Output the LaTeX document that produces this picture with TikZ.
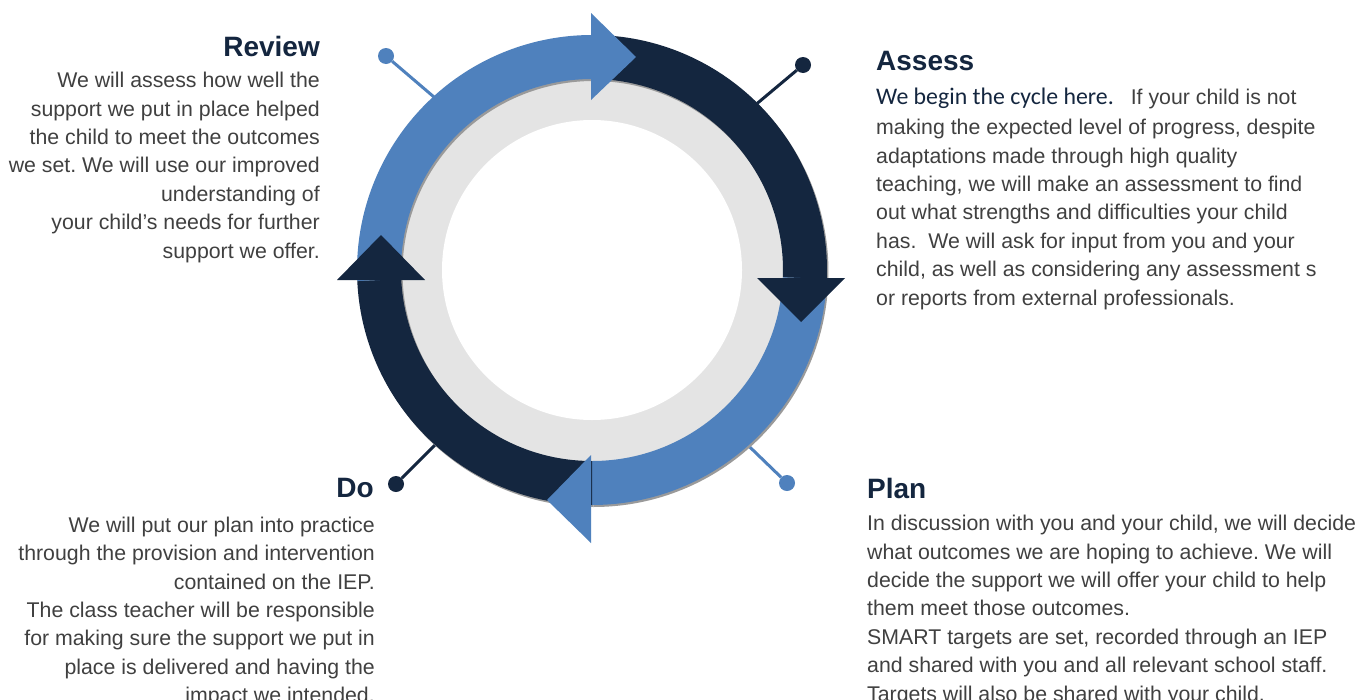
\documentclass[tikz,border=0pt]{standalone}
\usepackage{fontspec}
\setmainfont{Liberation Sans}
\newfontfamily\carlitofont{Carlito}
\usetikzlibrary{calc}
\definecolor{navy}{HTML}{14263F}
\definecolor{lblue}{HTML}{4F81BD}
\definecolor{ringgrey}{HTML}{E4E4E4}
\definecolor{textgrey}{HTML}{404040}
\definecolor{shadowgrey}{HTML}{9A9A9A}
\newcommand\ringseg[3]{%
  \fill[#1] (#2:235) arc[start angle=#2, end angle=#3, radius=235]
    -- (#3:191) arc[start angle=#3, end angle=#2, radius=191] -- cycle;}
\frenchspacing
\begin{document}
\begin{tikzpicture}[x=1pt,y=1pt,
  head/.style={font=\bfseries\fontsize{28}{30}\selectfont, text=navy, inner sep=0pt},
  body/.style={font=\frenchspacing\fontsize{21.3}{28.4}\selectfont, text=textgrey, inner sep=0pt},
  pin/.style={circle, inner sep=0pt, minimum size=16pt},
  link/.style={line width=3pt}]
\useasboundingbox (0,0) rectangle (1357,-699);
\fill[white] (0,0) rectangle (1357,-699);

% pins with connecting lines
\node[pin, fill=lblue] (pReview) at (386,-56) {};
\node[pin, fill=navy] (pAssess) at (803,-65) {};
\node[pin, fill=lblue] (pPlan) at (787,-483) {};
\node[pin, fill=navy] (pDo) at (396,-484) {};
\coordinate (rReview) at (455,-115);
\coordinate (rAssess) at (735,-122);
\coordinate (rPlan) at (727,-425);
\coordinate (rDo) at (457,-423);
\draw[link, lblue] (pReview) -- (rReview);
\draw[link, navy] (pAssess) -- (rAssess);
\draw[link, lblue] (pPlan) -- (rPlan);
\draw[link, navy] (pDo) -- (rDo);

% grey ring
\coordinate (C) at (592,-270);
\fill[ringgrey] (C) circle[radius=193];
\fill[white] (C) circle[radius=150];

% shadows
\begin{scope}[shift={(593.5,-272)}]
  \ringseg{shadowgrey}{90}{-2.2}
  \ringseg{shadowgrey}{-2.2}{-90}
  \ringseg{shadowgrey}{-90}{-177.3}
  \ringseg{shadowgrey}{182.7}{90}
\end{scope}
% ring segments
\begin{scope}[shift={(592,-270)}]
  \ringseg{navy}{90}{-2.2}
  \ringseg{lblue}{-2.2}{-90}
  \ringseg{navy}{-90}{-177.3}
  \ringseg{lblue}{182.7}{90}
\end{scope}
% arrow heads
\fill[lblue] (591,-13) -- (591,-100) -- (636,-57) -- cycle;
\fill[navy] (757,-278) -- (845,-278) -- (801,-322) -- cycle;
\fill[lblue] (591,-455) -- (591,-543) -- (547,-500) -- cycle;
\fill[navy] (337,-280) -- (425,-280) -- (381,-235) -- cycle;

% texts
\node[head, anchor=base east] (hReview) at (320,-56) {Review};
\node[body, align=right, anchor=north east] (bReview) at (320,-67.5) {\rule{0pt}{20pt}We will assess how well the\\
support we put in place helped\\
the child to meet the outcomes\\
we set. We will use our improved\\
understanding of\\
your child’s needs for further\\
support we offer.};

\node[head, anchor=base west] (hAssess) at (876,-70) {Assess};
\node[body, align=left, anchor=north west] (bAssess) at (876,-84) {\rule{0pt}{20pt}{\carlitofont\color{navy}\fontsize{23.8}{28.4}\selectfont We begin the cycle here.}\hspace{17pt}If your child is not\\[2.1pt]
making the expected level of progress, despite\\
adaptations made through high quality\\
teaching, we will make an assessment to find\\
out what strengths and difficulties your child\\
has.\ \ We will ask for input from you and your\\
child, as well as considering any assessment s\\
or reports from external professionals.};

\node[head, anchor=base west] (hPlan) at (867,-498) {Plan};
\node[body, align=left, anchor=north west] (bPlan) at (867,-510.5) {\rule{0pt}{20pt}In discussion with you and your child, we will decide\\
what outcomes we are hoping to achieve. We will\\
decide the support we will offer your child to help\\
them meet those outcomes.\\
SMART targets are set, recorded through an IEP\\
and shared with you and all relevant school staff.\\
Targets will also be shared with your child.};

\node[head, anchor=base east] (hDo) at (374,-497) {Do};
\node[body, align=right, anchor=north east] (bDo) at (375,-512) {\rule{0pt}{20pt}We will put our plan into practice\\
through the provision and intervention\\
contained on the IEP.\\
The class teacher will be responsible\\
for making sure the support we put in\\
place is delivered and having the\\
impact we intended.};
\end{tikzpicture}
\end{document}
